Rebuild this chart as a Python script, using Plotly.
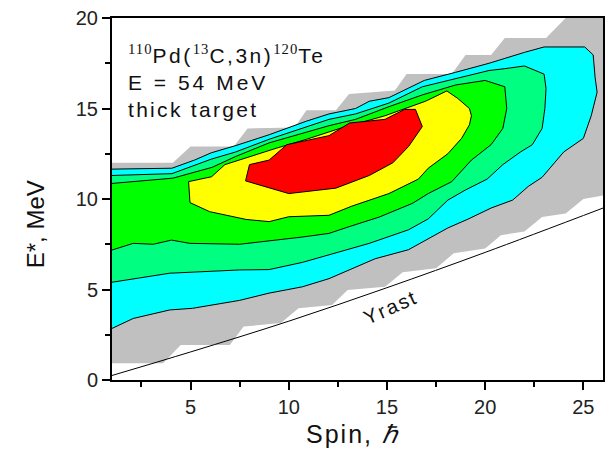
import plotly.graph_objects as go

# ---- contour-band boundaries (Spin, E* in MeV) ----
gray_spin = [1, 3.6, 4.5, 7.0, 7.7, 9.6, 10.5, 12.2, 13.0, 14.9, 15.8, 17.5, 18.4, 20.0, 20.8, 22.0, 22.9, 24.1, 25.0, 26.0,
             26.0, 24.1, 23.1, 21.0, 20.3, 19.0, 18.3, 16.0, 15.4, 13.07, 12.4, 10.9, 10.3, 7.9, 7.2, 5.0, 4.1, 1.0]
gray_e = [0.92, 0.92, 1.93, 1.93, 2.95, 3.15, 3.96, 4.15, 4.97, 5.15, 5.95, 6.17, 7.0, 7.27, 8.0, 8.2, 9.0, 9.2, 10.0, 10.2,
          20.0, 20.0, 18.9, 18.9, 17.96, 17.96, 16.9, 16.9, 16.0, 15.8, 14.9, 14.9, 13.95, 13.9, 12.9, 12.9, 12.0, 12.0]

cyan_spin = [1, 4.05, 5.2, 6.05, 7.3, 9.0, 10.9, 12.05, 13.4, 14.1, 15.1, 16.9, 18.5, 20.2, 22.0, 23.0, 25.07, 25.5, 25.6, 25.7,
             25.4, 25.0, 24.0, 23.5, 22.9, 22.2, 21.4, 20.3, 19.15, 18.1, 17.1, 16.1, 14.4, 13.07, 12.05, 10.7, 9.0, 7.5, 5.1,
             3.94, 2.08, 1.0]
cyan_e = [11.65, 11.7, 12.15, 12.55, 12.95, 13.55, 14.3, 14.7, 15.0, 15.4, 15.6, 16.55, 17.0, 17.5, 18.1, 18.4, 18.4, 17.96, 16.7,
          15.9, 14.6, 13.35, 12.6, 11.97, 11.2, 10.7, 9.94, 9.5, 8.9, 8.4, 7.8, 7.2, 6.7, 6.1, 5.6, 5.15, 4.8, 4.4, 3.96,
          3.87, 3.4, 2.85]

spring_spin = [1, 4.05, 6.05, 7.3, 9.0, 10.9, 12.05, 13.4, 15.1, 16.8, 18.5, 20.2, 21.0, 22.0, 23.0, 23.1, 23.04, 22.9, 22.4,
               21.8, 20.9, 20.1, 19.0, 18.1, 17.1, 16.1, 14.1, 12.05, 10.7, 9.0, 7.5, 3.94, 2.08, 1.0]
spring_e = [11.3, 11.4, 12.2, 12.6, 13.3, 14.0, 14.4, 14.7, 15.3, 16.2, 16.66, 17.1, 17.2, 17.35, 16.9, 16.1, 15.0, 13.9, 13.0,
            12.6, 11.9, 11.1, 10.5, 9.94, 8.9, 8.3, 7.55, 6.9, 6.5, 6.1, 6.08, 5.9, 5.6, 5.4]

green_spin = [1, 4.1, 6.1, 7.3, 9.0, 10.9, 12.05, 13.4, 15.1, 16.8, 18.5, 20.0, 21.0, 21.1, 20.9, 20.3, 19.8, 19.3, 18.3,
              17.1, 16.3, 14.6, 13.07, 12.05, 10.7, 9.0, 7.5, 4.96, 4.03, 3.1, 2.08, 1.0]
green_e = [10.86, 11.15, 11.75, 12.35, 13.1, 13.7, 14.05, 14.4, 15.1, 15.75, 16.3, 16.55, 16.2, 15.0, 13.9, 13.0, 12.6, 12.15,
           10.96, 10.3, 9.76, 9.0, 8.47, 8.1, 7.9, 7.7, 7.5, 7.55, 7.73, 7.5, 7.55, 7.18]

yellow_spin = [4.9, 6.07, 6.75, 8.17, 9.35, 10.9, 12.6, 14.9, 16.96, 18.05, 18.6, 19.2, 19.3, 19.2, 18.8, 18.1, 17.1, 16.6,
               15.1, 13.2, 12.05, 10.0, 9.0, 7.83, 5.97, 4.97, 4.9]
yellow_e = [10.96, 11.23, 11.9, 12.4, 12.8, 13.3, 13.9, 14.6, 15.4, 15.97, 15.56, 15.0, 14.6, 14.1, 13.35, 12.5, 11.7, 11.1,
            10.3, 9.6, 9.1, 9.02, 8.75, 8.87, 9.3, 9.8, 10.96]

red_spin = [7.8, 8.0, 9.0, 9.9, 12.05, 13.1, 14.9, 15.9, 16.45, 16.8, 16.1, 15.3, 14.1, 12.4, 10.0, 9.35, 7.8]
red_e = [11.0, 11.9, 12.15, 13.0, 13.5, 14.2, 14.4, 14.95, 14.95, 14.0, 12.9, 12.0, 11.3, 10.6, 10.3, 10.5, 11.0]

yrast_spin = [1, 5, 10, 15, 20, 26]
yrast_e = [0.25, 1.55, 3.25, 5.1, 7.05, 9.5]

x_ticks = [5, 10, 15, 20, 25]
y_ticks = [0, 5, 10, 15, 20]

FONT = "Liberation Sans, Arial, sans-serif"

fig = go.Figure()

bands = [
    (gray_spin, gray_e, "#C0C0C0", False),
    (cyan_spin, cyan_e, "#00FFFF", True),
    (spring_spin, spring_e, "#00FF80", True),
    (green_spin, green_e, "#00FF00", True),
    (yellow_spin, yellow_e, "#FFFF00", True),
    (red_spin, red_e, "#FF0000", True),
]
for xs, ys, col, outline in bands:
    fig.add_trace(go.Scatter(
        x=xs, y=ys, mode="lines", fill="toself", fillcolor=col,
        line=dict(color="#000000" if outline else col, width=1 if outline else 0),
        hoverinfo="skip", showlegend=False))

fig.add_trace(go.Scatter(x=yrast_spin, y=yrast_e, mode="lines", line=dict(color="#000000", width=1, shape="spline"),
                         hoverinfo="skip", showlegend=False))

axis_common = dict(showline=True, linecolor="#000000", linewidth=2, mirror=True, ticks="outside", ticklen=8,
                   tickwidth=1.5, tickcolor="#000000", showgrid=False, zeroline=False,
                   tickfont=dict(family=FONT, size=20, color="#222222"))
fig.update_xaxes(range=[1, 26], tickvals=x_ticks, ticktext=[str(v) for v in x_ticks],
                 minor=dict(tickvals=[2.5, 7.5, 12.5, 17.5, 22.5], ticklen=5, tickwidth=1.5, tickcolor="#000000", ticks="outside"),
                 **axis_common)
fig.update_yaxes(range=[0, 20], tickvals=y_ticks, ticktext=[str(v) for v in y_ticks],
                 minor=dict(tickvals=[2.5, 7.5, 12.5, 17.5], ticklen=5, tickwidth=1.5, tickcolor="#000000", ticks="outside"),
                 **axis_common)


def spaced(s, px):
    return '<span style="letter-spacing:%spx">%s</span>' % (px, s)


sup = '<sup><span style="font-family:Liberation Serif, Times New Roman, serif;letter-spacing:1px">%s</span></sup>'
ann_font = dict(family=FONT, size=21, color="#111111")
line1 = sup % "110" + spaced("Pd(", 2.5) + sup % "13" + spaced("C,3n)", 2.5) + sup % "120" + spaced("Te", 2.5)
fig.add_annotation(x=1.72, y=18.0, xref="x", yref="y", xanchor="left", yanchor="middle", showarrow=False,
                   text=line1, font=ann_font)
fig.add_annotation(x=1.72, y=16.45, xref="x", yref="y", xanchor="left", yanchor="middle", showarrow=False,
                   text=spaced("E = 54 MeV", 3), font=ann_font)
fig.add_annotation(x=1.72, y=14.95, xref="x", yref="y", xanchor="left", yanchor="middle", showarrow=False,
                   text=spaced("thick target", 2.3), font=ann_font)
fig.add_annotation(x=15.2, y=4.05, xref="x", yref="y", showarrow=False, text=spaced("Yrast", 2), textangle=-24,
                   font=dict(family=FONT, size=20, color="#111111"))

# axis titles
fig.add_annotation(x=0.49, y=-0.148, xref="paper", yref="paper", xanchor="center", yanchor="middle", showarrow=False,
                   text=spaced("Spin, ", 2) + "<i>ℏ</i>", font=dict(family=FONT, size=25, color="#111111"))
fig.add_annotation(x=-0.157, y=0.43, xref="paper", yref="paper", xanchor="center", yanchor="middle", showarrow=False,
                   text="E*, MeV", textangle=-90, font=dict(family=FONT, size=24, color="#111111"))

fig.update_layout(width=609, height=450, margin=dict(l=112, r=4, t=18, b=70),
                  paper_bgcolor="white", plot_bgcolor="white")

fig.write_html("out.html")
